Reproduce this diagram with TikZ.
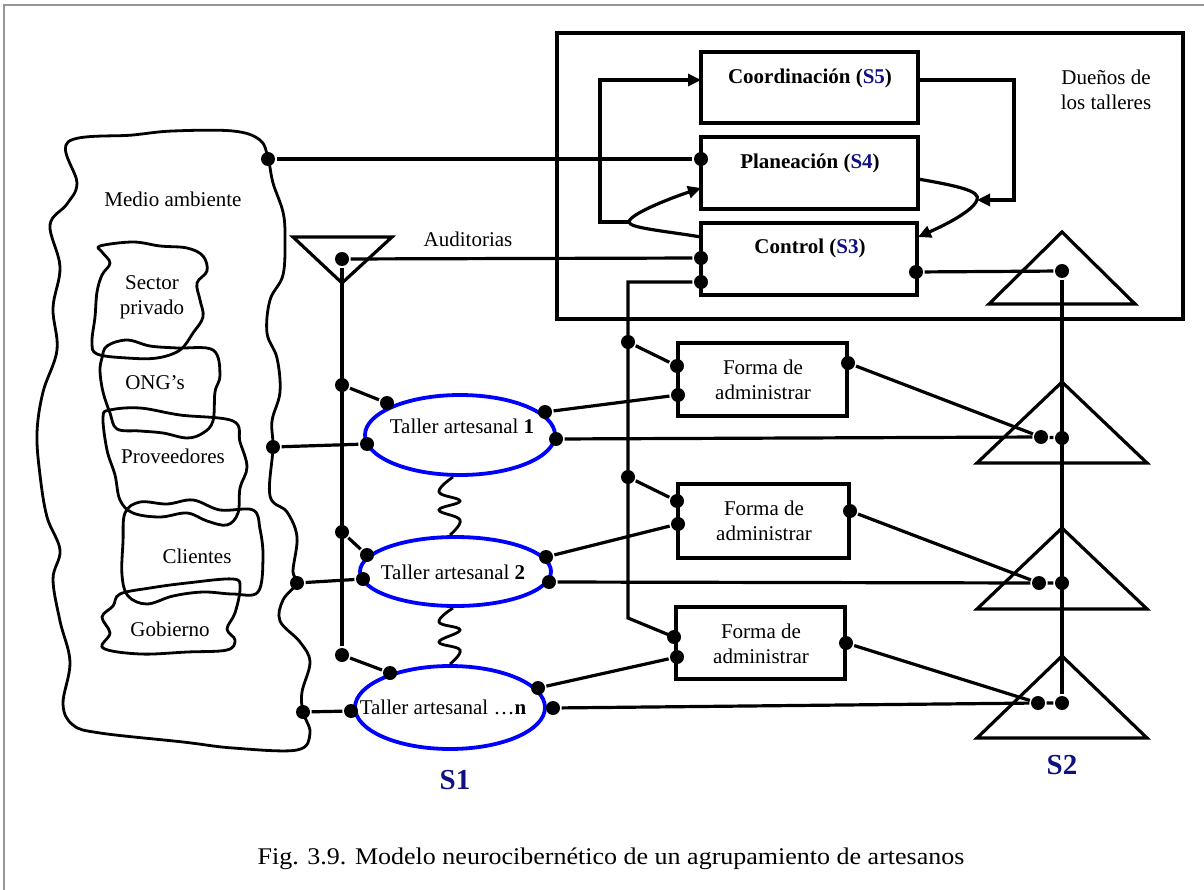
\documentclass[tikz,border=0pt]{standalone}
\usepackage{fontspec}
\usepackage{graphicx}
\setmainfont{Liberation Serif}
\usetikzlibrary{arrows.meta,shapes.geometric}
\definecolor{navy}{RGB}{16,16,128}
\definecolor{ellblue}{RGB}{0,0,255}
\definecolor{framegray}{RGB}{150,150,150}
\begin{document}
\begin{tikzpicture}[x=1pt,y=-1pt,line width=3.2pt,
  lbl/.style={font=\fontsize{21}{25}\selectfont, inner sep=0pt, align=center},
  blbl/.style={font=\fontsize{21}{25}\selectfont\bfseries, inner sep=0pt},
  slbl/.style={font=\fontsize{29}{32}\selectfont\bfseries, text=navy, inner sep=0pt},
  bx/.style={draw, line width=3.2pt, rectangle, inner sep=0pt},
  dot/.style={circle, fill=black, inner sep=0pt, minimum size=14pt},
  arr/.style={-{Triangle[length=13pt,width=12pt]}},
  cloudline/.style={line width=2.8pt, line join=round},
  ellb/.style={ellipse, draw=ellblue, line width=3.8pt, inner sep=0pt},
  tri/.style={draw, line width=3.2pt, line join=miter},
]
\useasboundingbox (0,0) rectangle (1204,890);
\draw[framegray, line width=2pt] (4,890) -- (4,5) -- (1204,5);

% ---------- environment cloud ----------
\draw[cloudline] plot[smooth cycle, tension=0.6] coordinates {
(68,142) (133,135) (173,131) (233,131) (260,140) (268,158) (273,183) (283,212)
(285,238) (283,275) (270,300) (267,333) (277,358) (280,392) (272,421) (273,448)
(270,496) (287,512) (297,537) (293,571) (297,583) (283,600) (280,621) (300,642)
(310,662) (302,692) (303,712) (310,733) (297,750) (233,748) (183,742) (100,733)
(73,725) (63,704) (70,662) (60,621) (53,579) (60,550) (47,517) (40,475) (37,433)
(43,392) (57,350) (53,308) (60,267) (50,225) (67,204) (77,183)};
% Sector privado
\draw[cloudline] plot[smooth cycle, tension=0.6] coordinates {
(100,246) (133,242) (160,246) (187,248) (203,256) (207,271) (197,283) (200,300)
(203,317) (193,333) (180,350) (157,358) (127,358) (97,354) (92,342) (95,317)
(97,292) (102,275) (110,263) (102,252)};
% ONG's
\draw[cloudline] plot[smooth cycle, tension=0.6] coordinates {
(102,358) (107,346) (127,340) (150,346) (177,348) (213,350) (220,375) (215,392)
(213,421) (203,433) (187,438) (163,433) (140,431) (117,429) (110,413) (103,392)
(100,371)};
% Proveedores
\draw[cloudline] plot[smooth cycle, tension=0.6] coordinates {
(103,417) (110,410) (140,408) (180,415) (233,421) (240,442) (247,467) (240,488)
(238,513) (227,525) (207,521) (187,513) (160,517) (133,513) (120,500) (115,475)
(107,450)};
% Clientes
\draw[cloudline] plot[smooth cycle, tension=0.6] coordinates {
(125,513) (140,502) (167,504) (193,500) (220,510) (253,510) (260,529) (263,558)
(258,592) (233,594) (203,592) (173,596) (147,604) (128,596) (122,575) (123,542)};
% Gobierno
\draw[cloudline] plot[smooth cycle, tension=0.6] coordinates {
(120,594) (150,588) (187,583) (233,579) (240,588) (235,613) (227,629) (235,640)
(227,650) (187,652) (140,654) (103,648) (110,633) (102,617) (113,606)};

\node[lbl] (tMedio) at (173,199) {Medio ambiente};
\node[lbl] (tSector) at (152,297) {Sector\\privado};
\node[lbl] (tONG) at (155,383) {ONG’s};
\node[lbl] (tProv) at (173,456) {Proveedores};
\node[lbl] (tCli) at (197,556) {Clientes};
\node[lbl] (tGob) at (170,629) {Gobierno};

% ---------- top management box ----------
\node[bx, minimum width=626pt, minimum height=286pt] (big) at (870,176) {};
\node[bx, minimum width=217pt, minimum height=71pt] (C5) at (809.5,87.5) {};
\node[bx, minimum width=217pt, minimum height=72pt] (P4) at (809.5,173) {};
\node[bx, minimum width=216pt, minimum height=72pt] (C3) at (809,259) {};
\node[blbl] (tC5) at (810,78) {Coordinación (\textcolor{navy}{S5})};
\node[blbl] (tP4) at (810,163) {Planeación (\textcolor{navy}{S4})};
\node[blbl] (tC3) at (810,248) {Control (\textcolor{navy}{S3})};
\node[lbl] (tDue) at (1106,90) {Dueños de\\los talleres};

\coordinate (C5in) at (701,80);
\coordinate (C5out) at (918,80);
\coordinate (J) at (629,222);
\coordinate (K) at (977,200);
\coordinate (P4r) at (918,179);
\coordinate (P4a) at (701,188);
\coordinate (C3l) at (701,237);
\coordinate (C3r) at (918,237);

\draw[arr] (J) -- ++(-29,0) |- (C5in);
\draw[arr] (C3l) .. controls (665,231) and (629,228) .. (J) .. controls (629,215) and (665,200) .. (P4a);
\draw[arr] (C5out) -- ++(96,0) |- (K);
\draw[arr] (P4r) .. controls (958,186) and (981,191) .. (K) .. controls (973,211) and (945,225) .. (C3r);

% ---------- bullets ----------
\node[dot] (cA) at (268,159) {};
\node[dot] (cB) at (273,447) {};
\node[dot] (cC) at (297,583) {};
\node[dot] (cD) at (303,712) {};
\node[dot] (P4l) at (701,159) {};
\node[dot] (C3l1) at (701,258) {};
\node[dot] (C3l2) at (701,282) {};
\node[dot] (C3rb) at (916,272) {};
\node[dot] (aud) at (342,259) {};
\node[dot] (vb1) at (342,385) {};
\node[dot] (vb2) at (342,532) {};
\node[dot] (vb3) at (342,655) {};
\node[dot] (V1) at (628,342) {};
\node[dot] (V2) at (628,477) {};
\node[dot] (s2top) at (1062,271) {};

% ---------- Auditorias ----------
\draw[tri] (293,237) -- (392,237) -- (342,283) -- cycle;
\node[lbl] (tAud) at (468,239) {Auditorias};
\draw (aud) -- (C3l1);
\draw (aud) -- (vb3);
\draw (cA) -- (P4l);
\draw (C3rb) -- (s2top);
\draw (C3l2) -| (628,618) -- (674,637);

% ---------- S1 workshops ----------
\node[ellb, minimum width=190pt, minimum height=80pt] (T1) at (460,435) {};
\node[ellb, minimum width=191pt, minimum height=69pt] (T2) at (455.5,571.5) {};
\node[ellb, minimum width=190pt, minimum height=83pt] (Tn) at (450,707.5) {};
\node[lbl] (tT1) at (462,426) {Taller artesanal \textbf{1}};
\node[lbl] (tT2) at (453,572) {Taller artesanal \textbf{2}};
\node[lbl] (tTn) at (443,707) {Taller artesanal …\textbf{n}};

\node[dot] (T1ul) at (387,403) {};
\node[dot] (T1l) at (367,444) {};
\node[dot] (T1ur) at (545,412) {};
\node[dot] (T1r) at (556,439) {};
\node[dot] (T2ul) at (367,555) {};
\node[dot] (T2l) at (363,579) {};
\node[dot] (T2ur) at (546,557) {};
\node[dot] (T2r) at (549,582) {};
\node[dot] (Tnul) at (390,673) {};
\node[dot] (Tnl) at (351,711) {};
\node[dot] (Tnur) at (538,688) {};
\node[dot] (Tnr) at (553,708) {};

\draw (vb1) -- (T1ul);
\draw (vb2) -- (T2ul);
\draw (vb3) -- (Tnul);
\draw (cB) -- (T1l);
\draw (cC) -- (T2l);
\draw (cD) -- (Tnl);

\draw[line width=2.8pt] plot[smooth, tension=0.7] coordinates {(453,477) (439,492) (460,501) (439,510) (460,520) (450,535)};
\draw[line width=2.8pt] plot[smooth, tension=0.7] coordinates {(453,608) (439,622) (460,630) (439,642) (460,650) (450,664)};

\node[slbl] (S1) at (455,780) {S1};

% ---------- Forma de administrar ----------
\node[bx, minimum width=169pt, minimum height=73pt] (F1) at (762.5,379.5) {};
\node[bx, minimum width=171pt, minimum height=74pt] (F2) at (763.5,521) {};
\node[bx, minimum width=169pt, minimum height=72pt] (F3) at (760.5,643) {};
\node[lbl] (tF1) at (763,380) {Forma de\\administrar};
\node[lbl] (tF2) at (764,521) {Forma de\\administrar};
\node[lbl] (tF3) at (761,644) {Forma de\\administrar};

\node[dot] (F1lu) at (677,366) {};
\node[dot] (F1ll) at (678,395) {};
\node[dot] (F1r) at (848,363) {};
\node[dot] (F2lu) at (677,501) {};
\node[dot] (F2ll) at (678,524) {};
\node[dot] (F2r) at (850,511) {};
\node[dot] (F3lu) at (674,637) {};
\node[dot] (F3ll) at (677,657) {};
\node[dot] (F3r) at (846,643) {};

\draw (V1) -- (F1lu);
\draw (V2) -- (F2lu);
\draw (T1ur) -- (F1ll);
\draw (T2ur) -- (F2ll);
\draw (Tnur) -- (F3ll);

% ---------- S2 triangles ----------
\draw[tri] (989,304) -- (1062,232) -- (1135,304) -- cycle;
\draw[tri] (977,463) -- (1062,382) -- (1147,463) -- cycle;
\draw[tri] (977,609) -- (1062,528) -- (1147,609) -- cycle;
\draw[tri] (977,738) -- (1062,656) -- (1147,738) -- cycle;

\node[dot] (a2) at (1041,437) {};
\node[dot] (b2) at (1062,438) {};
\node[dot] (a3) at (1039,583) {};
\node[dot] (b3) at (1062,583) {};
\node[dot] (a4) at (1038,703) {};
\node[dot] (b4) at (1062,703) {};

\draw (s2top) -- (b4);
\draw (T1r) -- (a2) -- (b2);
\draw (T2r) -- (a3) -- (b3);
\draw (Tnr) -- (a4) -- (b4);
\draw (F1r) -- (a2);
\draw (F2r) -- (a3);
\draw (F3r) -- (a4);

\node[slbl] (S2) at (1062,765) {S2};

% ---------- caption ----------
\node[lbl, font=\fontsize{26}{30}\selectfont] (cap) at (611,859)
  {\scalebox{1}[0.92]{Fig. 3.9. Modelo neurocibernético de un agrupamiento de artesanos}};
\end{tikzpicture}
\end{document}
